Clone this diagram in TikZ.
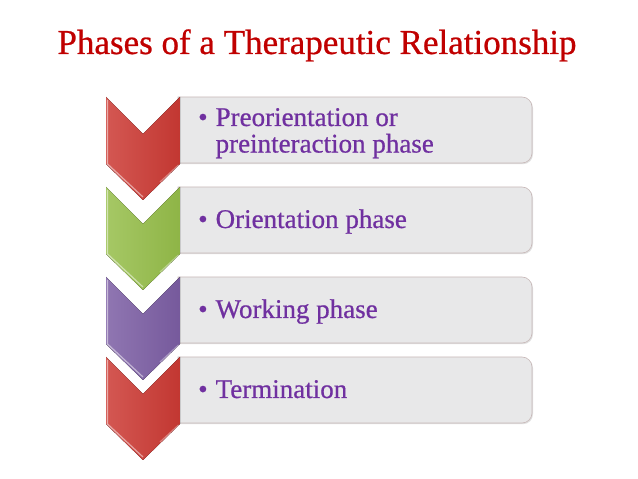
\documentclass[tikz,border=0pt]{standalone}
\usepackage{fontspec}
\setmainfont{Liberation Serif}[FakeBold=0.7]
\usetikzlibrary{shadows}
\definecolor{titlered}{RGB}{192,0,0}
\definecolor{phasepurple}{RGB}{112,48,160}
\definecolor{boxgray}{RGB}{232,232,233}
\definecolor{boxline}{RGB}{200,184,184}
\definecolor{chevred}{RGB}{204,58,52}
\definecolor{chevgreen}{RGB}{150,190,74}
\definecolor{chevpurple}{RGB}{124,94,164}
\begin{document}
\begin{tikzpicture}[x=1pt,y=1pt,
	phasebox/.style={fill=boxgray, draw=boxline, line width=0.6pt,
		drop shadow={opacity=0.25, shadow xshift=1pt, shadow yshift=-1.2pt}},
	bevel/.style={white, opacity=0.5, line width=1.2pt},
	phasetext/.style={anchor=base west, inner sep=0pt, text=phasepurple,
		font=\fontsize{27}{26}\selectfont}]
	\useasboundingbox (0,0) rectangle (638,479);
	\node[anchor=base, inner sep=0pt, text=titlered, font=\fontsize{35}{40}\selectfont]
		(title) at (317,425) {Phases of a Therapeutic Relationship};
	% boxes with their chevrons
	\foreach \top/\hue in {382/red, 292/green, 202/purple, 122/red}{
		\draw[phasebox] (178,\top) -- (522,\top) arc[start angle=90, end angle=0, radius=10]
			-- (532,\top-56) arc[start angle=0, end angle=-90, radius=10]
			-- (178,\top-66) -- cycle;
		\fill[left color=chev\hue!85!white, right color=chev\hue!95!black]
			(106,\top) -- (143,\top-37) -- (180,\top) -- (180,\top-67)
			-- (143,\top-103) -- (106,\top-67) -- cycle;
		\draw[bevel] (107.5,\top-3) -- (107.5,\top-67) -- (143,\top-100);
		\draw[bevel, opacity=0.35] (178.5,\top-68) -- (160,\top-85);
	}
	\node[phasetext] (pre) at (198,353) {\begin{tabular}[t]{@{}l@{\hspace{8pt}}l@{}}\textbullet & Preorientation or\\ & preinteraction phase\end{tabular}};
	\node[phasetext] (ori) at (198,251) {\textbullet\hspace{8pt}Orientation phase};
	\node[phasetext] (work) at (198,161) {\textbullet\hspace{8pt}Working phase};
	\node[phasetext] (term) at (198,81) {\textbullet\hspace{8pt}Termination};
\end{tikzpicture}
\end{document}
